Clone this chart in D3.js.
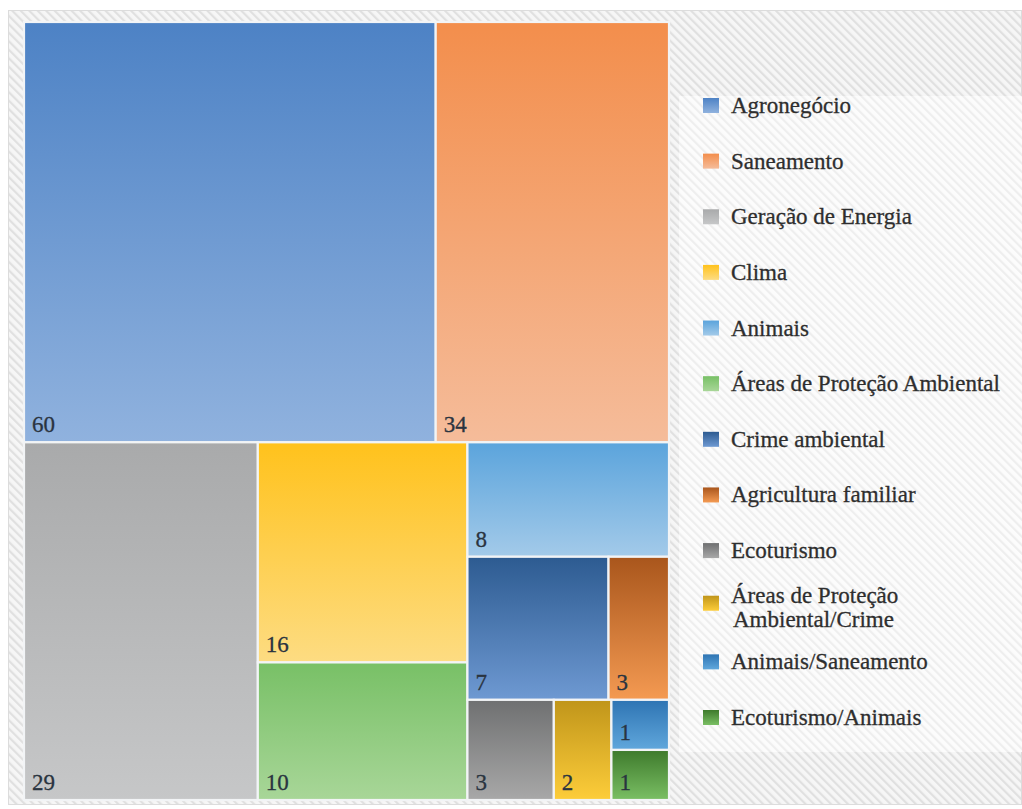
<!DOCTYPE html>
<html>
<head>
<meta charset="utf-8">
<script src="https://cdn.jsdelivr.net/npm/d3@7"></script>
<style>
  html, body { margin: 0; padding: 0; background: #ffffff; }
  svg { display: block; }
  .serif { font-family: "Liberation Serif", "Times New Roman", "DejaVu Serif", serif; }
</style>
</head>
<body>
<svg id="chart" width="1022" height="809"></svg>
<script>
// ---- data ----
const categories = [
  "Agronegócio", "Saneamento", "Geração de Energia", "Clima", "Animais",
  "Áreas de Proteção Ambiental", "Crime ambiental", "Agricultura familiar",
  "Ecoturismo", "Áreas de Proteção Ambiental/Crime", "Animais/Saneamento",
  "Ecoturismo/Animais"
];
const values = [60, 34, 29, 16, 8, 10, 7, 3, 3, 2, 1, 1];
// treemap order (as laid out by the original chart: by value, descending)
const treemapOrder = [0, 1, 2, 3, 5, 4, 6, 7, 8, 9, 10, 11];
const legendLines = [
  ["Agronegócio"], ["Saneamento"], ["Geração de Energia"], ["Clima"], ["Animais"],
  ["Áreas de Proteção Ambiental"], ["Crime ambiental"], ["Agricultura familiar"],
  ["Ecoturismo"], ["Áreas de Proteção", "Ambiental/Crime"], ["Animais/Saneamento"],
  ["Ecoturismo/Animais"]
];
const colorTop = ["#4d82c5", "#f38e4c", "#a9aaab", "#ffc21c", "#5ba4dc", "#78c066",
                  "#2d5b91", "#a9561c", "#6f7071", "#c0951a", "#2e74b3", "#3e7a2c"];
const colorBottom = ["#90b2de", "#f5bc9a", "#c6c7c8", "#fddc82", "#a3cae9", "#a8d698",
                     "#6e99d2", "#f49a52", "#a8a8a8", "#fdcd3a", "#60a7dc", "#7abf64"];

const svg = d3.select("#chart");
const defs = svg.append("defs");

// hatch patterns
function hatch(id, bg, fg) {
  const p = defs.append("pattern").attr("id", id).attr("patternUnits", "userSpaceOnUse")
    .attr("width", 6).attr("height", 6).attr("patternTransform", "rotate(-45)");
  p.append("rect").attr("width", 6).attr("height", 6).attr("fill", bg);
  p.append("rect").attr("width", 2.2).attr("height", 6).attr("fill", fg);
}
hatch("hatchOuter", "#f6f6f6", "#e0e0e0");
hatch("hatchLegend", "#fcfcfc", "#eeeeee");

// gradients
categories.forEach((c, i) => {
  const g = defs.append("linearGradient").attr("id", "grad" + i)
    .attr("x1", 0).attr("y1", 0).attr("x2", 0).attr("y2", 1);
  g.append("stop").attr("offset", "0%").attr("stop-color", colorTop[i]);
  g.append("stop").attr("offset", "100%").attr("stop-color", colorBottom[i]);
});

// outer frame
svg.append("rect").attr("x", 8.5).attr("y", 10.5).attr("width", 1013).attr("height", 794)
  .attr("fill", "url(#hatchOuter)").attr("stroke", "#dcdcdc").attr("stroke-width", 1);

// legend panel
svg.append("rect").attr("x", 679).attr("y", 96).attr("width", 343).attr("height", 656)
  .attr("fill", "url(#hatchLegend)");

// ---- treemap with Excel-like squarified tiling (average aspect criterion) ----
function excelSquarify(parent, x0, y0, x1, y1) {
  const nodes = parent.children;
  let value = parent.value;
  let i = 0;
  const n = nodes.length;
  function avgAspect(row, sum, dx, dy, total) {
    let acc = 0;
    if (dx < dy) {
      const h = dy * sum / total;
      row.forEach(d => { const w = dx * d.value / sum; acc += Math.max(w / h, h / w); });
    } else {
      const w = dx * sum / total;
      row.forEach(d => { const h = dy * d.value / sum; acc += Math.max(w / h, h / w); });
    }
    return acc / row.length;
  }
  while (i < n) {
    const dx = x1 - x0, dy = y1 - y0;
    let row = [nodes[i]];
    let sum = nodes[i].value;
    let best = avgAspect(row, sum, dx, dy, value);
    let j = i + 1;
    while (j < n) {
      const cand = row.concat([nodes[j]]);
      const s = sum + nodes[j].value;
      const a = avgAspect(cand, s, dx, dy, value);
      if (a <= best) { row = cand; sum = s; best = a; j++; } else break;
    }
    const rowNode = { value: sum, children: row };
    if (dx < dy) {
      const h = value ? dy * sum / value : 0;
      d3.treemapDice(rowNode, x0, y0, x1, y0 + h);
      y0 += h;
    } else {
      const w = value ? dx * sum / value : 0;
      d3.treemapSlice(rowNode, x0, y0, x0 + w, y1);
      x0 += w;
    }
    value -= sum;
    i = j;
  }
}

const tmData = { children: treemapOrder.map(k => ({ idx: k, name: categories[k], value: values[k] })) };
const root = d3.hierarchy(tmData).sum(d => d.value || 0);
d3.treemap().tile(excelSquarify).size([645, 778])(root);

const tm = svg.append("g").attr("transform", "translate(24,22)");
const leaves = tm.selectAll("g.leaf").data(root.leaves()).join("g").attr("class", "leaf");
leaves.append("rect")
  .attr("x", d => d.x0).attr("y", d => d.y0)
  .attr("width", d => d.x1 - d.x0).attr("height", d => d.y1 - d.y0)
  .attr("fill", d => "url(#grad" + d.data.idx + ")")
  .attr("stroke", "#f2f4f6").attr("stroke-width", 2.2);
leaves.append("text")
  .attr("class", "serif")
  .attr("x", d => d.x0 + 8).attr("y", d => d.y1 - 10)
  .attr("font-size", 23).attr("fill", "#2a3440")
  .attr("stroke", "#2a3440").attr("stroke-width", 0.3)
  .text(d => d.data.value);

// ---- legend ----
const legend = svg.append("g");
const ly = d3.scalePoint().domain(d3.range(categories.length)).range([113, 725]);
const items = legend.selectAll("g.item").data(categories.map((c, i) => i)).join("g").attr("class", "item");
items.append("rect")
  .attr("x", 703).attr("y", i => ly(i) - 15 - (legendLines[i].length - 1) * 3).attr("width", 16).attr("height", 15)
  .attr("fill", i => "url(#grad" + i + ")");
items.each(function (i) {
  const lines = legendLines[i];
  const t = d3.select(this).append("text")
    .attr("class", "serif")
    .attr("font-size", 23).attr("fill", "#2e2e2e")
    .attr("stroke", "#2e2e2e").attr("stroke-width", 0.3);
  const lh = 24;
  const start = ly(i) + (lines.length > 1 ? -10.5 : 0);
  lines.forEach((l, k) => {
    t.append("tspan").attr("x", k === 0 ? 731 : 733).attr("y", start + k * lh).text(l);
  });
});
</script>
</body>
</html>
